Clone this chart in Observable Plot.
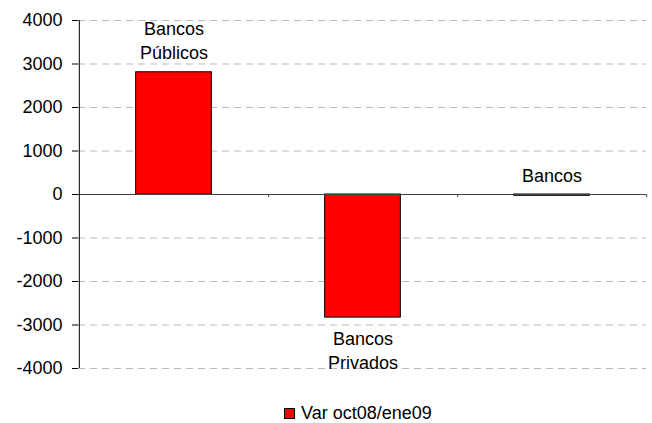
<!DOCTYPE html>
<html>
<head>
<meta charset="utf-8">
<script src="https://cdn.jsdelivr.net/npm/d3@7"></script>
<script src="https://cdn.jsdelivr.net/npm/@observablehq/plot@0.6"></script>
<style>
  body { margin: 0; background: #fff; font-family: "Liberation Sans", Arial, sans-serif; overflow: hidden; }
  #legend { display: flex; align-items: center; justify-content: flex-start; padding-left: 284px; margin-top: 6px; font-size: 18px; line-height: 18px; height: 18px; color: #000; }
  #legend .sw { width: 11px; height: 11px; background: #ff0000; border: 1px solid #000; margin-right: 6px; box-sizing: border-box; }
</style>
</head>
<body>
<div id="chart"></div>
<div id="legend"><span class="sw"></span><span>Var oct08/ene09</span></div>
<script>
const categories = ["Bancos Públicos", "Bancos Privados", "Bancos"];
const labels = ["Bancos\nPúblicos", "Bancos\nPrivados", "Bancos"];
const values = [2810, -2830, -30];
const yTicks = [-4000, -3000, -2000, -1000, 0, 1000, 2000, 3000, 4000];
const seriesName = "Var oct08/ene09";

const data = categories.map((c, i) => ({category: c, label: labels[i], value: values[i]}));

const W = 652, H = 398;
const mL = 78, mR = 6, mT = 20, mB = 30;
const step = (W - mL - mR) / categories.length;
const barW = 76;
const inset = (step - barW) / 2;
const FS = 18;

const chart = Plot.plot({
  width: W,
  height: H,
  marginLeft: mL,
  marginRight: mR,
  marginTop: mT,
  marginBottom: mB,
  style: {fontFamily: "Liberation Sans, Arial, sans-serif", fontSize: FS + "px", color: "#000", background: "#fff"},
  x: {domain: categories, padding: 0, axis: null},
  y: {domain: [-4000, 4000], ticks: yTicks, tickFormat: d => String(d), label: null},
  marks: [
    Plot.gridY(yTicks.filter(t => t !== 0), {stroke: "#b8b8b8", strokeOpacity: 1, strokeDasharray: "7,5"}),
    Plot.axisY({ticks: yTicks, tickFormat: d => String(d), tickSize: 6, tickPadding: 10, label: null, fontSize: FS}),
    Plot.barY(data, {x: "category", y: "value", fill: "#ff0000", stroke: "#000", strokeWidth: 1, insetLeft: inset, insetRight: inset}),
    Plot.ruleY([0], {stroke: "#404040", strokeWidth: 1}),
    Plot.ruleX(categories, {x: d => d, dx: step / 2, y1: 0, y2: -70, stroke: "#404040"}),
    Plot.ruleX([categories[0]], {x: d => d, dx: -step / 2, y1: -4000, y2: 4000, stroke: "#000"}),
    Plot.text(data.filter(d => d.value > -500), {x: "category", y: d => Math.max(0, d.value), text: "label", lineAnchor: "bottom", lineHeight: 1.36, dy: -13, fontSize: FS, fill: "#000"}),
    Plot.text(data.filter(d => d.value <= -500), {x: "category", y: "value", text: "label", lineAnchor: "top", lineHeight: 1.36, dy: 10, fontSize: FS, fill: "#000"})
  ]
});
document.getElementById("chart").appendChild(chart);
</script>
</body>
</html>
